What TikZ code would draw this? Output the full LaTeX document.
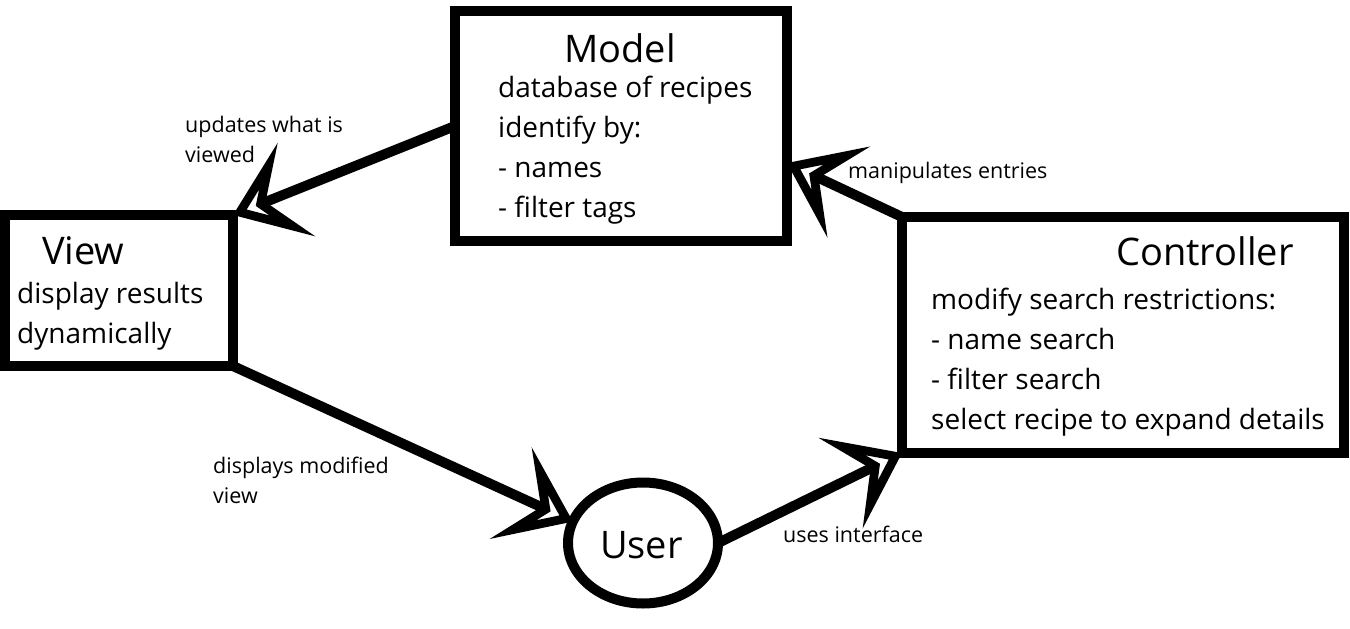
\documentclass[tikz,border=0pt]{standalone}
\usepackage{fontspec}
\setmainfont{Open Sans}
\usetikzlibrary{arrows.meta, shapes.geometric}

\begin{document}
\begin{tikzpicture}[x=1pt,y=-1pt,
  box/.style={draw, line width=10pt, rectangle, outer sep=0pt, inner sep=0pt},
  title/.style={anchor=base west, inner sep=0pt, font=\fontsize{38}{44}\selectfont},
  body/.style={anchor=base west, inner sep=0pt, align=left, font=\fontsize{28}{40}\selectfont},
  note/.style={anchor=base west, inner sep=0pt, align=left, font=\fontsize{21.5}{30}\selectfont},
  link/.style={line width=10pt, -{Stealth[open, length=68pt, width=100pt, inset=33pt]}}
]
\useasboundingbox (0,0) rectangle (1350,629);

% Boxes
\node[box, minimum width=228pt, minimum height=151pt] (view) at (119,290.5) {};
\node[box, minimum width=332pt, minimum height=230pt] (model) at (621,126) {};
\node[box, minimum width=442pt, minimum height=236pt] (ctrl) at (1123,335) {};
\node[draw, ellipse, line width=10pt, outer sep=0pt, minimum width=150pt, minimum height=121pt] (user) at (643,543) {};

% Box texts (anchored at the baseline of the last line)
\node[title] (viewtitle) at (42,264) {View};
\node[body] (viewtext) at (17,343) {display results\\dynamically};

\node[title] (modeltitle) at (564,62) {Model};
\node[body] (modeltext) at (498,217) {database of recipes\\identify by:\\- names\\- filter tags};

\node[title] (ctrltitle) at (1116,265) {Controller};
\node[body] (ctrltext) at (931,429) {modify search restrictions:\\- name search\\- filter search\\select recipe to expand details};

\node[title] (usertitle) at (600,558) {User};

% Connectors
\coordinate (modelin) at ([yshift=-37pt]model.east);
\draw[link] (model.west) -- (view.north east);
\draw[link] (ctrl.north west) -- (modelin);
\draw[link] (view.south east) -- (user.163);
\draw[link] (user.east) -- (ctrl.south west);

% Connector labels
\node[note] (updates) at (185,162) {updates what is\\viewed};
\node[note] (manip) at (848,178) {manipulates entries};
\node[note] (displays) at (213,503) {displays modified\\view};
\node[note] (uses) at (783,542) {uses interface};

\end{tikzpicture}
\end{document}
